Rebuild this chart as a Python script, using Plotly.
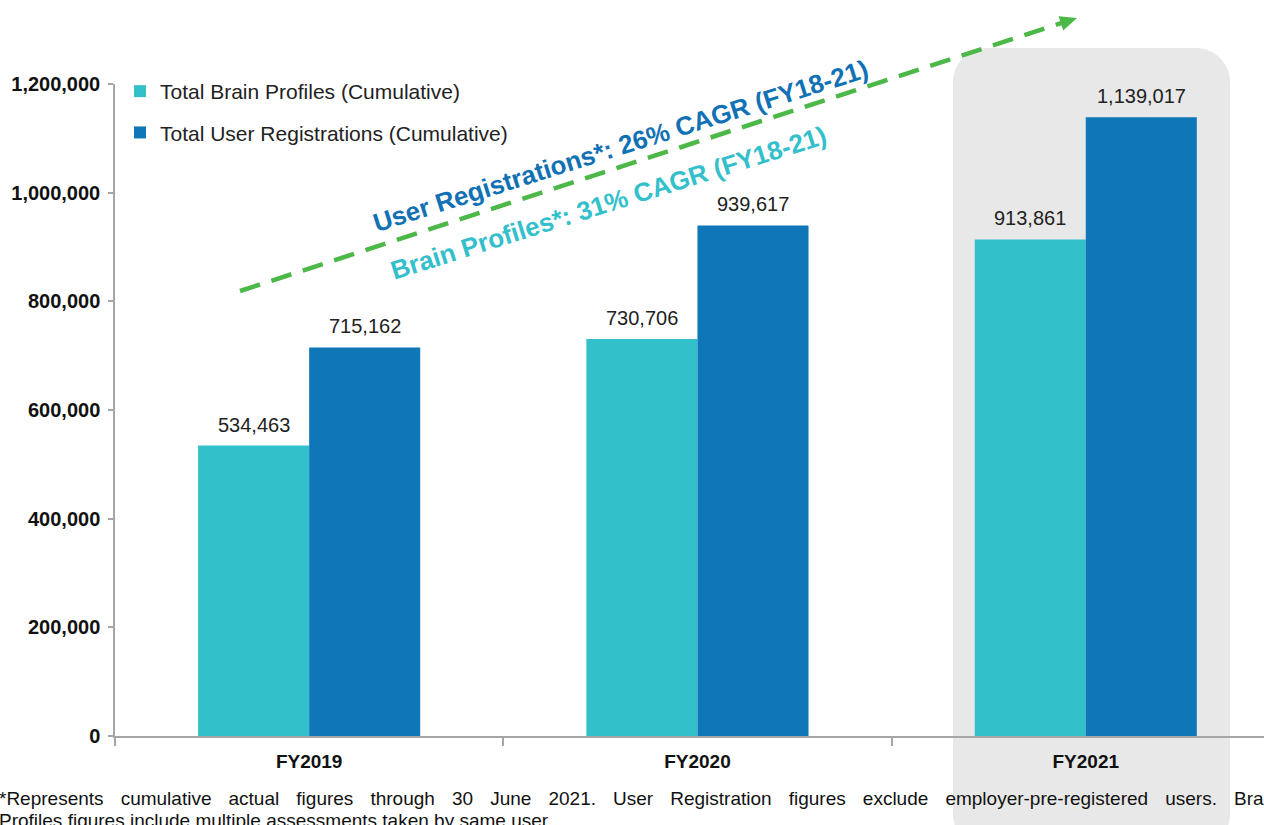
import plotly.graph_objects as go

# ---------------- data ----------------
categories = ["FY2019", "FY2020", "FY2021"]
brain_profiles = [534463, 730706, 913861]
user_registrations = [715162, 939617, 1139017]
series_names = ["Total Brain Profiles (Cumulative)", "Total User Registrations (Cumulative)"]
cagr_user = "User Registrations*: 26% CAGR (FY18-21)"
cagr_brain = "Brain Profiles*: 31% CAGR (FY18-21)"
footnote_1 = ("*Represents cumulative actual figures through 30 June 2021. User Registration "
              "figures exclude employer-pre-registered users. Brain")
footnote_2 = "Profiles figures include multiple assessments taken by same user."

# ---------------- styling / geometry ----------------
W, H = 1264, 825
ML, MT, MB, MR = 115, 84, 89, 0
PW, PH = W - ML - MR, H - MT - MB
FONT = "Liberation Sans, Arial, sans-serif"
CYAN = "#32c0cb"
BLUE = "#0f76b7"
GREEN = "#4cb848"
AXIS = "#a6a6a6"
BARGAP = 0.428
X_RANGE = [-0.5, 2.459]


def px(x):
    return (x - ML) / PW


def py(y):
    return (H - MB - y) / PH


fig = go.Figure()
fig.add_trace(go.Bar(x=categories, y=brain_profiles, name=series_names[0], marker_color=CYAN,
                     marker_line_width=0, legendgroup="a"))
fig.add_trace(go.Bar(x=categories, y=user_registrations, name=series_names[1], marker_color=BLUE,
                     marker_line_width=0, legendgroup="b"))

# value labels above bars (placed on the data scale, shifted to each bar of the group)
unit_px = PW / (X_RANGE[1] - X_RANGE[0])
half_bar = unit_px * (1 - BARGAP) / 4
for vals, sgn in ((brain_profiles, -1), (user_registrations, 1)):
    for cat, v in zip(categories, vals):
        fig.add_annotation(x=cat, y=v, xref="x", yref="y", text=f"{v:,}", showarrow=False,
                           xanchor="center", yanchor="bottom", xshift=sgn * half_bar, yshift=8,
                           font=dict(family=FONT, size=20, color="#222222"))

# grey rounded highlight box behind FY2021
bx0, bx1, by0, by1, r = 953, 1230, 48, 848, 34
rx, ry = r / PW, r / PH
k = 0.45
path = (
    f"M {px(bx0)},{py(by0) - ry} "
    f"C {px(bx0)},{py(by0) - ry * k} {px(bx0) + rx * k},{py(by0)} {px(bx0) + rx},{py(by0)} "
    f"L {px(bx1) - rx},{py(by0)} "
    f"C {px(bx1) - rx * k},{py(by0)} {px(bx1)},{py(by0) - ry * k} {px(bx1)},{py(by0) - ry} "
    f"L {px(bx1)},{py(by1) + ry} "
    f"C {px(bx1)},{py(by1) + ry * k} {px(bx1) - rx * k},{py(by1)} {px(bx1) - rx},{py(by1)} "
    f"L {px(bx0) + rx},{py(by1)} "
    f"C {px(bx0) + rx * k},{py(by1)} {px(bx0)},{py(by1) + ry * k} {px(bx0)},{py(by1) + ry} Z"
)
fig.add_shape(type="path", path=path, xref="paper", yref="paper", layer="below",
              fillcolor="#e8e8e8", line_width=0)

# green dashed growth arrow
x_start, y_start, x_tip, y_tip = 240, 291, 1077, 18
dx, dy = x_tip - x_start, y_tip - y_start
L = (dx ** 2 + dy ** 2) ** 0.5
ux, uy = dx / L, dy / L
nx, ny = -uy, ux
hl, hw = 17, 7.5
bxc, byc = x_tip - hl * ux, y_tip - hl * uy
fig.add_shape(type="line", xref="paper", yref="paper",
              x0=px(x_start), y0=py(y_start), x1=px(bxc + 2 * ux), y1=py(byc + 2 * uy),
              line=dict(color=GREEN, width=4.5, dash="21px,12px"))
fig.add_shape(type="path", xref="paper", yref="paper",
              path=(f"M {px(x_tip)},{py(y_tip)} L {px(bxc + hw * nx)},{py(byc + hw * ny)} "
                    f"L {px(bxc - hw * nx)},{py(byc - hw * ny)} Z"),
              fillcolor=GREEN, line_width=0)

# rotated CAGR labels
fig.add_annotation(text=cagr_user, xref="paper", yref="paper", x=px(620), y=py(146),
                   xanchor="center", yanchor="middle", showarrow=False, textangle=-17.5,
                   font=dict(family=FONT, size=26, color="#1171b5", weight="bold"))
fig.add_annotation(text=cagr_brain, xref="paper", yref="paper", x=px(608), y=py(203),
                   xanchor="center", yanchor="middle", showarrow=False, textangle=-17.5,
                   font=dict(family=FONT, size=26, color="#33bfcb", weight="bold"))

# footnote (first line spread like the justified original)
fig.add_annotation(text=f'<span style="word-spacing:11.8px">{footnote_1}</span>',
                   xref="paper", yref="paper", x=px(-3), y=py(798),
                   xanchor="left", yanchor="middle", showarrow=False, align="left",
                   font=dict(family=FONT, size=19, color="#111111"))
fig.add_annotation(text=footnote_2, xref="paper", yref="paper", x=px(-3), y=py(820),
                   xanchor="left", yanchor="middle", showarrow=False, align="left",
                   font=dict(family=FONT, size=19, color="#111111"))

fig.update_layout(
    width=W, height=H,
    margin=dict(l=ML, r=MR, t=MT, b=MB, pad=0),
    paper_bgcolor="white", plot_bgcolor="rgba(0,0,0,0)",
    barmode="group", bargap=BARGAP, bargroupgap=0,
    font=dict(family=FONT, size=18, color="#222222"),
    showlegend=True,
    legend=dict(x=px(120), y=py(71), xanchor="left", yanchor="top",
                bgcolor="rgba(0,0,0,0)", traceorder="grouped", tracegroupgap=11,
                font=dict(family=FONT, size=21, color="#222222")),
)
fig.update_xaxes(range=X_RANGE, showline=True, linecolor=AXIS, linewidth=1.5,
                 ticks="outside", ticklen=8, tickcolor=AXIS, tickwidth=1.5, tickson="boundaries",
                 tickfont=dict(family=FONT, size=19, color="#111111", weight="bold"),
                 showgrid=False, zeroline=False, fixedrange=True, ticklabelstandoff=7)
fig.update_yaxes(range=[0, 1200000], dtick=200000, tickformat=",", showline=True,
                 linecolor=AXIS, linewidth=1.5, ticks="outside", ticklen=5, tickcolor=AXIS,
                 tickwidth=1.5, tickfont=dict(family=FONT, size=20, color="#111111", weight="bold"),
                 showgrid=False, zeroline=False, fixedrange=True, ticklabelstandoff=4)

fig.write_html("out.html", config={"displayModeBar": False},
               post_script="document.body.style.margin='0';document.body.style.overflow='hidden';")
